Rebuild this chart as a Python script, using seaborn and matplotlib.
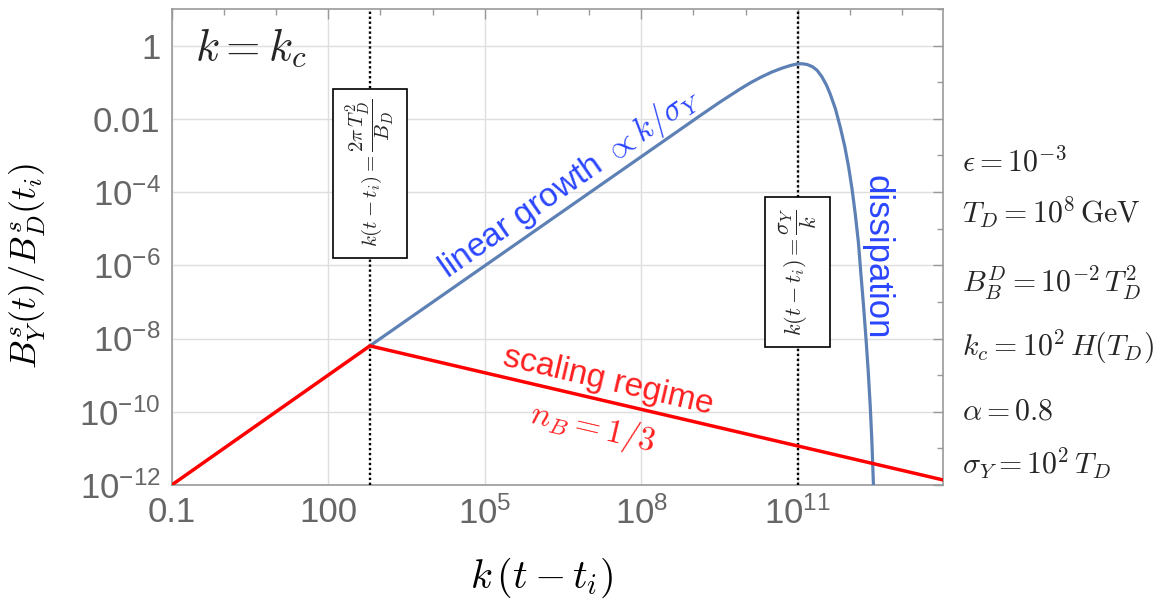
import numpy as np
import pandas as pd
import matplotlib
matplotlib.use("Agg")
import matplotlib.pyplot as plt
import seaborn as sns
from matplotlib.ticker import LogLocator, NullFormatter, FixedLocator, FixedFormatter

# ---------------- data ----------------
red_x = [0.1, 628.0, 6.0e13]
red_y = [1.0e-12, 6.3e-9, 1.38e-12]

blue_x = [628.0, 1.35e9, 3.16e9, 7.94e9, 1.26e10, 2.0e10, 3.16e10, 5.01e10,
          7.08e10, 8.51e10, 1.0e11, 1.20e11, 1.51e11, 1.91e11, 2.34e11,
          2.88e11, 3.55e11, 4.17e11, 5.25e11, 6.53e11, 7.94e11, 9.44e11,
          1.10e12, 1.26e12, 1.45e12, 1.62e12, 1.82e12, 2.04e12, 2.24e12,
          2.45e12, 2.63e12, 2.82e12]
blue_y = [6.3e-9, 1.23e-2, 2.82e-2, 6.6e-2, 9.8e-2, 0.139, 0.189, 0.243,
          0.284, 0.303, 0.316, 0.320, 0.305, 0.266, 0.212,
          0.143, 8.3e-2, 4.8e-2, 1.9e-2, 5.9e-3, 1.78e-3, 4.8e-4,
          1.17e-4, 2.6e-5, 4.3e-6, 5.9e-7, 7.9e-8, 8.9e-9, 1.26e-9,
          1.38e-10, 1.58e-11, 1.0e-12]

vlines_x = [628.0, 1.0e11]

x_ticks = [0.1, 100, 1e5, 1e8, 1e11]
x_tick_labels = ["0.1", "100", r"$\mathdefault{10^{5}}$", r"$\mathdefault{10^{8}}$",
                 r"$\mathdefault{10^{11}}$"]
y_ticks = [1e-12, 1e-10, 1e-8, 1e-6, 1e-4, 1e-2, 1]
y_tick_labels = [r"$\mathdefault{10^{-12}}$", r"$\mathdefault{10^{-10}}$",
                 r"$\mathdefault{10^{-8}}$", r"$\mathdefault{10^{-6}}$",
                 r"$\mathdefault{10^{-4}}$", "0.01", "1"]

params = [r"$\epsilon = 10^{-3}$", r"$T_D = 10^8\,\mathrm{GeV}$",
          r"$B_B^D = 10^{-2}\,T_D^2$", r"$k_c = 10^2\,H(T_D)$",
          r"$\alpha = 0.8$", r"$\sigma_Y = 10^2\,T_D$"]
params_y = [0.731, 0.647, 0.529, 0.422, 0.315, 0.228]

# ---------------- style ----------------
sns.set_theme(style="white")
plt.rcParams["font.family"] = ["Liberation Sans Narrow", "Liberation Sans", "DejaVu Sans"]
plt.rcParams["mathtext.fontset"] = "cm"

BLUE_LINE = "#5e81b5"
RED_LINE = "#ff0000"
BLUE_TXT = "#2a45ff"
RED_TXT = "#ff2020"
GRAY = "#666666"
SANS = ["Liberation Sans", "DejaVu Sans"]

fig = plt.figure(figsize=(11.58, 6.0), dpi=100)
ax = fig.add_axes([0.1483, 0.1917, 0.6658, 0.7933])

red_df = pd.DataFrame({"x": red_x, "y": red_y})
blue_df = pd.DataFrame({"x": blue_x, "y": blue_y})

for xv in vlines_x:
    ax.axvline(xv, color="black", ls=(0, (1, 1.1)), lw=1.7, zorder=3)

sns.lineplot(data=blue_df, x="x", y="y", ax=ax, color=BLUE_LINE, lw=2.3,
             sort=False, zorder=4)
sns.lineplot(data=red_df, x="x", y="y", ax=ax, color=RED_LINE, lw=2.5,
             sort=False, zorder=5)

ax.set_xscale("log")
ax.set_yscale("log")
ax.set_xlim(0.1, 6.0e13)
ax.set_ylim(1e-12, 10)

ax.xaxis.set_major_locator(FixedLocator(x_ticks))
ax.xaxis.set_major_formatter(FixedFormatter(x_tick_labels))
ax.yaxis.set_major_locator(FixedLocator(y_ticks))
ax.yaxis.set_major_formatter(FixedFormatter(y_tick_labels))
ax.xaxis.set_minor_locator(LogLocator(base=10, subs=(1.0,), numticks=40))
ax.yaxis.set_minor_locator(LogLocator(base=10, subs=(1.0,), numticks=40))
ax.xaxis.set_minor_formatter(NullFormatter())
ax.yaxis.set_minor_formatter(NullFormatter())

ax.tick_params(which="both", direction="in", top=True, right=True,
               color="#999999", width=1)
ax.tick_params(which="major", length=7, labelsize=25, labelcolor=GRAY, pad=8)
ax.tick_params(which="minor", length=4)
ax.grid(True, which="major", color="#dedede", lw=1)
for s in ax.spines.values():
    s.set_color("#999999")
    s.set_linewidth(1.2)

ax.set_xlabel(r"$k\,(t-t_i)$", fontsize=29, color="black")
ax.set_ylabel(r"$B^s_Y(t)/B^s_D(t_i)$", fontsize=26, color="black")
ax.xaxis.set_label_coords(0.48, -0.148)
ax.yaxis.set_label_coords(-0.16, 0.46)

# ---------------- annotations ----------------
def disp_angle(x0, y0, x1, y1):
    p0 = ax.transData.transform((x0, y0))
    p1 = ax.transData.transform((x1, y1))
    return np.degrees(np.arctan2(p1[1] - p0[1], p1[0] - p0[0]))

ang_b = disp_angle(blue_x[0], blue_y[0], blue_x[1], blue_y[1])
ang_r = disp_angle(red_x[1], red_y[1], red_x[2], red_y[2])

def perp(ang, d):
    a = np.radians(ang)
    return (-np.sin(a) * d, np.cos(a) * d)

ax.annotate(r"linear growth $\propto k/\sigma_Y$", xy=(6.8e6, 6.8e-5),
            xytext=perp(ang_b, 7), textcoords="offset points",
            rotation=ang_b, rotation_mode="anchor", ha="center", va="baseline",
            fontsize=24, color=BLUE_TXT, family=SANS)

ax.annotate("scaling regime", xy=(1.9e7, 2.0e-10), xytext=perp(ang_r, 8.5),
            textcoords="offset points", rotation=ang_r, rotation_mode="anchor",
            ha="center", va="baseline", fontsize=24, color=RED_TXT, family=SANS)

ax.annotate(r"$n_B = 1/3$", xy=(1.6e7, 2.15e-10), xytext=perp(ang_r, -21),
            textcoords="offset points", rotation=ang_r, rotation_mode="anchor",
            ha="center", va="center", fontsize=24, color=RED_TXT)

ax.text(3.3e12, 1.66e-6, "dissipation", rotation=-90, ha="center", va="center",
        fontsize=25, color=BLUE_TXT, family=SANS)

box = dict(boxstyle="square,pad=0.5", facecolor="white", edgecolor="black", lw=1.2)
ax.text(vlines_x[0], 3.3e-4, r"$k(t-t_i) = \dfrac{2\pi\, T_D^2}{B_D}$", rotation=90,
        ha="center", va="center", fontsize=15, bbox=box, zorder=6)
ax.text(vlines_x[1], 6.5e-7, r"$k(t-t_i) = \dfrac{\sigma_Y}{k}$", rotation=90,
        ha="center", va="center", fontsize=16, bbox=box, zorder=6)

ax.text(0.03, 0.918, r"$k = k_c$", transform=ax.transAxes, ha="left", va="center",
        fontsize=32)

for txt, yy in zip(params, params_y):
    fig.text(0.8307, yy, txt, ha="left", va="center", fontsize=21.5)

fig.savefig("out.png", dpi=100)
